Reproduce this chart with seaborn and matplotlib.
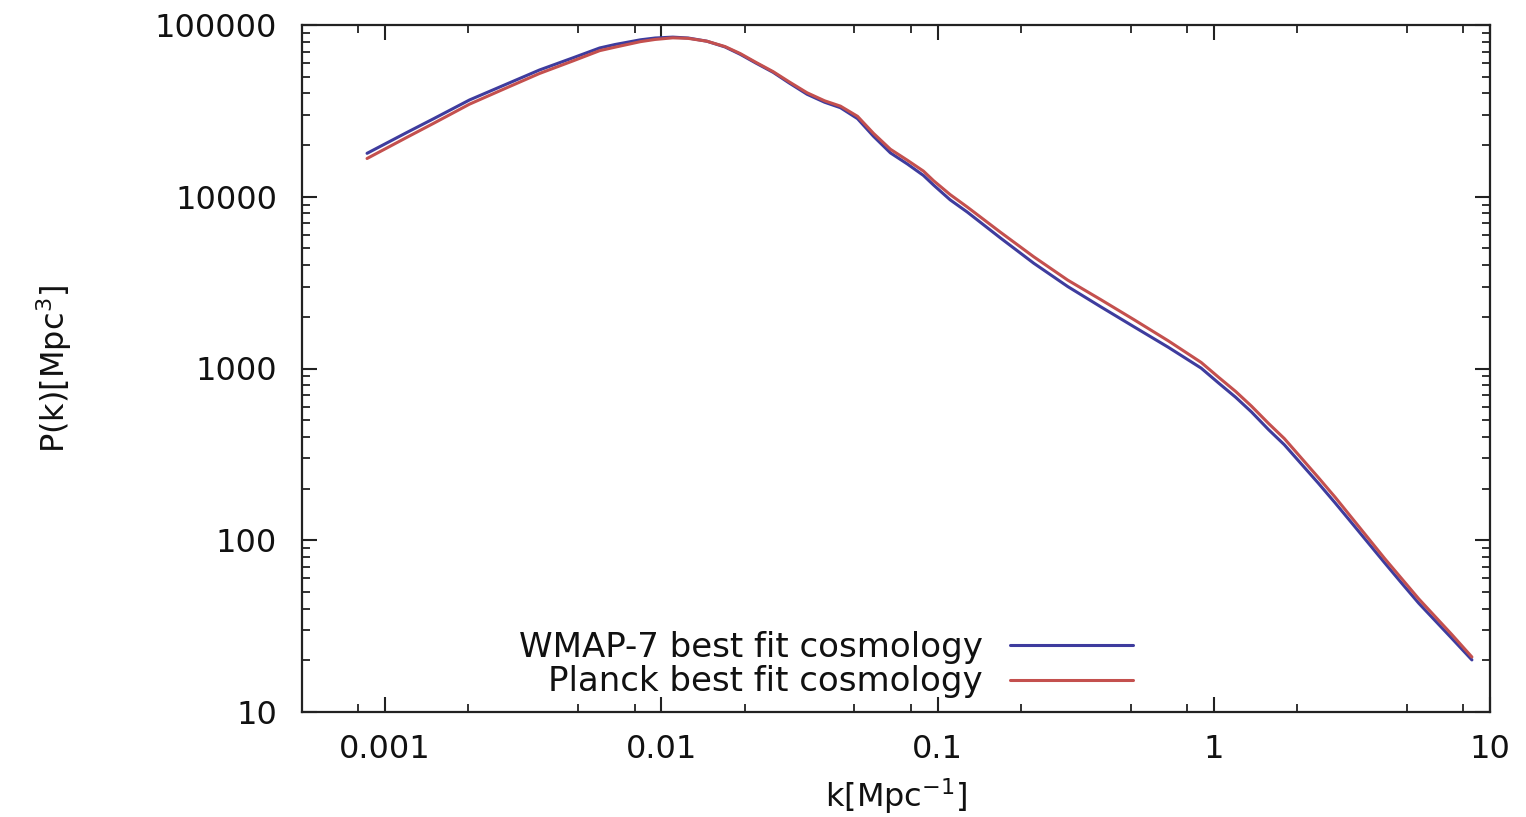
import numpy as np
import pandas as pd
import matplotlib
matplotlib.use("Agg")
import matplotlib.pyplot as plt
from matplotlib.ticker import FixedLocator, FixedFormatter, LogLocator, NullFormatter
import seaborn as sns

# ---- data ----
k_vals = [0.00086, 0.0012, 0.0015, 0.00202, 0.0027, 0.00362, 0.0048, 0.00598, 0.0068,
          0.0084, 0.0095, 0.011, 0.0125, 0.0146, 0.017, 0.0193, 0.022, 0.0254, 0.029,
          0.0337, 0.039, 0.0445, 0.0513, 0.0586, 0.0675, 0.0778, 0.0889, 0.0967,
          0.111, 0.128, 0.169, 0.223, 0.296, 0.391, 0.514, 0.684, 0.90, 1.04, 1.2,
          1.37, 1.58, 1.80, 2.39, 2.75, 3.16, 4.16, 4.8, 5.52, 7.28, 8.6]
wmap_pk = [17900, 23700, 28500, 36600, 44700, 54700, 64500, 73500, 77000,
           82000, 84000, 85000, 84000, 80500, 74500, 67500, 60000, 53000, 46000,
           39500, 35500, 33000, 28500, 22500, 18000, 15500, 13300, 11700,
           9600, 8150, 5750, 4100, 3000, 2280, 1750, 1330, 1005, 824, 680,
           558, 440, 360, 215, 165, 126, 73.7, 56, 43, 26.8, 20.1]
planck_pk = [16700, 22200, 26800, 34600, 42500, 52200, 61900, 70900, 74300,
             80000, 82400, 84200, 83600, 80500, 74900, 68200, 60600, 53500, 46700,
             40300, 36200, 33700, 29400, 23400, 18900, 16300, 14100, 12400,
             10300, 8720, 6210, 4470, 3270, 2510, 1925, 1450, 1085, 890, 735,
             603, 478, 391, 232, 178, 135, 78.1, 59.5, 45.6, 28.2, 20.9]
series_names = ["WMAP-7 best fit cosmology", "Planck best fit cosmology"]
series_colors = ["#3e3c9e", "#c4504e"]

xtick_vals = [0.001, 0.01, 0.1, 1, 10]
xtick_labels = ["0.001", "0.01", "0.1", "1", "10"]
ytick_vals = [10, 100, 1000, 10000, 100000]
ytick_labels = ["10", "100", "1000", "10000", "100000"]

df = pd.DataFrame({
    "k": k_vals + k_vals,
    "P": wmap_pk + planck_pk,
    "model": [series_names[0]] * len(k_vals) + [series_names[1]] * len(k_vals),
})

sns.set_theme(style="ticks")
plt.rcParams["font.family"] = ["DejaVu Sans"]

fig = plt.figure(figsize=(15.26, 8.17), dpi=100)
ax = fig.add_axes([302 / 1526, 1 - 712 / 817, (1490 - 302) / 1526, (712 - 25) / 817])

sns.lineplot(data=df, x="k", y="P", hue="model", palette=series_colors,
             hue_order=series_names, linewidth=2.2, ax=ax, legend=True, sort=False)

ax.set_xscale("log")
ax.set_yscale("log")
ax.set_xlim(0.0005, 10)
ax.set_ylim(10, 100000)

ax.xaxis.set_major_locator(FixedLocator(xtick_vals))
ax.xaxis.set_major_formatter(FixedFormatter(xtick_labels))
ax.xaxis.set_minor_locator(LogLocator(base=10, subs=(2, 5, 8), numticks=20))
ax.xaxis.set_minor_formatter(NullFormatter())
ax.yaxis.set_major_locator(FixedLocator(ytick_vals))
ax.yaxis.set_major_formatter(FixedFormatter(ytick_labels))
ax.yaxis.set_minor_locator(LogLocator(base=10, subs=np.arange(2, 10), numticks=20))
ax.yaxis.set_minor_formatter(NullFormatter())

ax.tick_params(which="both", direction="in", top=True, right=True, colors="#222222",
               labelcolor="#111111")
ax.tick_params(which="major", length=11, width=1.5, labelsize=23)
ax.tick_params(which="minor", length=6, width=1.3)
ax.tick_params(axis="x", which="major", pad=16)
ax.tick_params(axis="y", which="major", pad=18)
for s in ax.spines.values():
    s.set_linewidth(1.6)
    s.set_color("#222222")

ax.set_xlabel("k[Mpc$^{-1}$]", fontsize=23, color="#111111", labelpad=8)
ax.set_ylabel("P(k)[Mpc$^{3}$]", fontsize=23, color="#111111", labelpad=58)

leg = ax.legend(loc="center", bbox_to_anchor=(0.441, 0.069), frameon=False,
                markerfirst=False, fontsize=24.5, handlelength=3.6,
                handletextpad=0.8, labelspacing=0.05, borderpad=0)
for t in leg.get_texts():
    t.set_ha("right")
    t.set_color("#111111")
leg._legend_box.align = "right"

fig.savefig("out.png", dpi=100, facecolor="white")
